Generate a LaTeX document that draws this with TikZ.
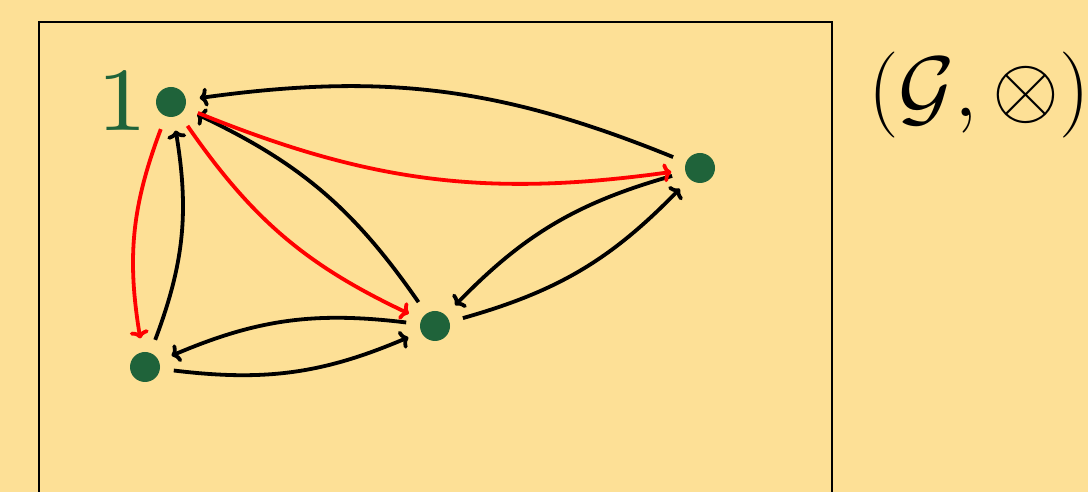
\documentclass[tikz,border=0pt]{standalone}
\usepackage{amsmath,amssymb}
\usetikzlibrary{arrows.meta}
\definecolor{bgyellow}{RGB}{253,224,150}
\definecolor{dotgreen}{RGB}{31,99,58}
\definecolor{edgered}{RGB}{255,0,0}
\tikzset{
  dot/.style={circle,fill=dotgreen,minimum size=30pt,inner sep=0pt,outer sep=14pt},
  edge/.style={line width=3.8pt,-{To[length=8pt,width=19pt]}, bend right=15},
  rededge/.style={edge,draw=edgered},
  frame/.style={line width=1.4pt,draw=black}
}
\begin{document}
\begin{tikzpicture}[x=1pt,y=1pt]
\useasboundingbox (0,0) rectangle (1088,492);
\clip (0,0) rectangle (1088,492);
\fill[bgyellow] (0,0) rectangle (1088,492);
\draw[frame] (39,-10) rectangle (832,470);
\node[dot] (A) at (171,390) {};
\node[dot] (B) at (700,324) {};
\node[dot] (C) at (435,166) {};
\node[dot] (D) at (145,125) {};
\node[text=dotgreen,inner sep=0pt,font=\fontsize{7}{8}\selectfont,scale=12.9] (one) at (122,391) {1};
\node[inner sep=0pt,font=\fontsize{20}{24}\selectfont,scale=4.15] (title) at (979,397) {$(\mathcal{G},\otimes)$};
% black edges
\draw[edge] (B) to (A);
\draw[edge] (C) to (A);
\draw[edge] (D) to (A);
\draw[edge] (D) to (C);
\draw[edge] (C) to (D);
\draw[edge] (C) to (B);
\draw[edge] (B) to (C);
% red edges
\draw[rededge] (A) to (B);
\draw[rededge] (A) to (C);
\draw[rededge] (A) to (D);
\end{tikzpicture}
\end{document}
